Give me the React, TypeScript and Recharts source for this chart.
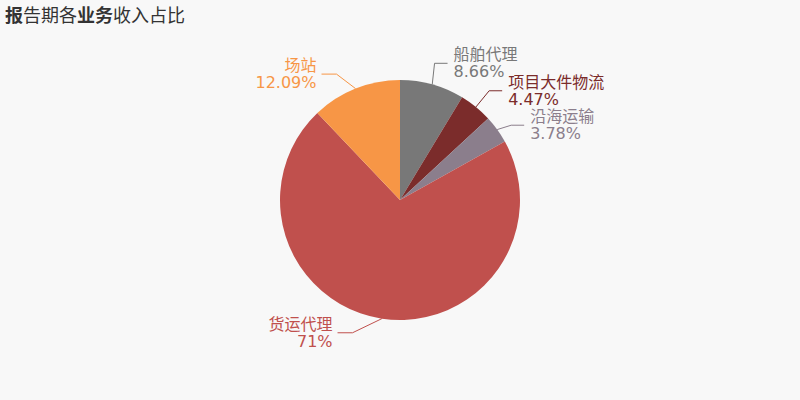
import React from "react";
import { Cell, Pie, PieChart } from "recharts";

const businessNames = ["船舶代理", "项目大件物流", "沿海运输", "货运代理", "场站"];
const shareValues = [8.66, 4.47, 3.78, 71, 12.09];
const sliceColors = ["#787878", "#7b2c2b", "#8b7e8c", "#c0504d", "#f79646"];

const pieData = businessNames.map((name, i) => ({ name, value: shareValues[i] }));

// small nudges for the leader elbows (degrees, first-segment length), mimicking the original's label avoidance
const elbowNudge: Record<string, [number, number]> = {
  船舶代理: [1.4, 21],
  项目大件物流: [0, 21],
  沿海运输: [-2, 14],
  货运代理: [-11, 21],
  场站: [5, 21]
};

const RAD = Math.PI / 180;
const labelFont = '"DejaVu Sans", "Noto Sans CJK SC", sans-serif';

function renderLabel(props: any) {
  const { cx, cy, midAngle, outerRadius, name, value, index } = props;
  const color = sliceColors[index];
  const a = midAngle * RAD;
  const sx = cx + Math.cos(a) * outerRadius;
  const sy = cy - Math.sin(a) * outerRadius;
  const [da, len] = elbowNudge[name] ?? [0, 21];
  const e = (midAngle + da) * RAD;
  const ex = cx + Math.cos(e) * (outerRadius + len);
  const ey = cy - Math.sin(e) * (outerRadius + len);
  const right = Math.cos(a) >= 0;
  const lx = ex + (right ? 13 : -15);
  const tx = lx + (right ? 6 : -5);
  return (
    <g key={`label-${index}`}>
      <polyline points={`${sx},${sy} ${ex},${ey} ${lx},${ey}`} fill="none" stroke={color} strokeWidth={1} />
      <text x={tx} fill={color} fontSize={16} fontFamily={labelFont} textAnchor={right ? "start" : "end"}>
        <tspan x={tx} y={ey - 3}>{name}</tspan>
        <tspan x={tx} y={ey + 14}>{value}%</tspan>
      </text>
    </g>
  );
}

export default function App() {
  return (
    <div style={{ position: "absolute", left: 0, top: 0, width: 800, height: 400, background: "#f8f8f8" }}>
      <div
        style={{
          position: "absolute",
          left: 5,
          top: 3,
          fontSize: 18,
          color: "#333",
          fontFamily: '"Noto Sans CJK SC", sans-serif',
          lineHeight: "22px"
        }}
      >
        <b>报</b>告期各<b>业务</b>收入占比
      </div>
      <PieChart width={800} height={400} margin={{ top: 0, right: 0, bottom: 0, left: 0 }}>
        <Pie
          data={pieData}
          dataKey="value"
          nameKey="name"
          cx={400}
          cy={200}
          outerRadius={120}
          startAngle={90}
          endAngle={-270}
          stroke="none"
          label={renderLabel}
          labelLine={false}
          isAnimationActive={false}
        >
          {pieData.map((d, i) => (
            <Cell key={d.name} fill={sliceColors[i]} />
          ))}
        </Pie>
      </PieChart>
    </div>
  );
}
